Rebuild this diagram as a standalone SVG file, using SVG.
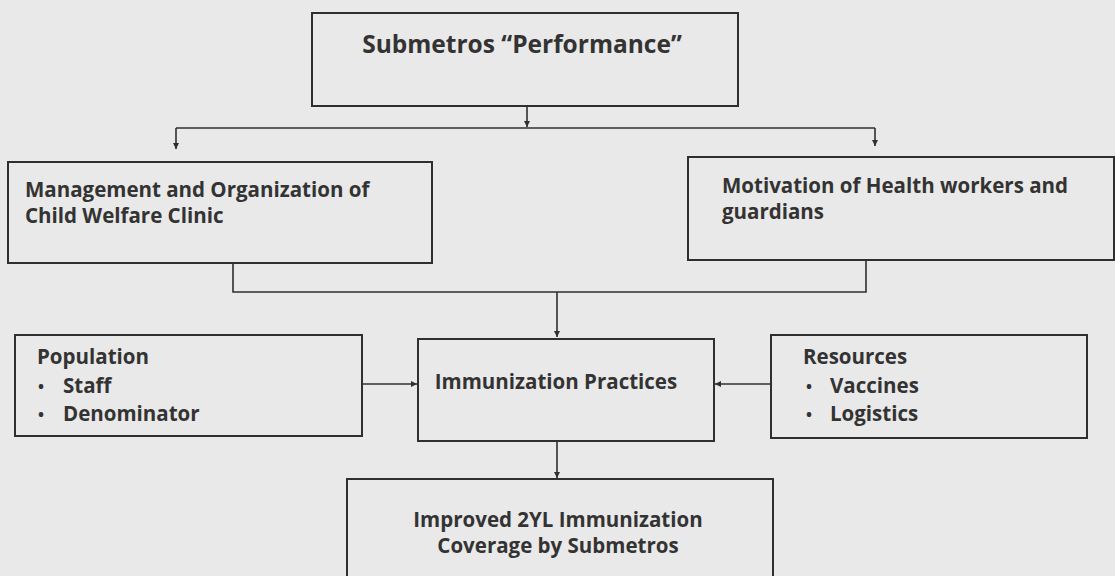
<svg xmlns="http://www.w3.org/2000/svg" width="1115" height="576" viewBox="0 0 1115 576">
<defs>
<style>
.bg{fill:#e9e9e9}
.box{fill:none;stroke:#2f2f2f;stroke-width:2}
.t{font-family:"Open Sans","Noto Sans",sans-serif;font-weight:700;font-size:20.5px;fill:#333}
.tt{font-size:24.5px}
.b{font-size:16px}
.ln{fill:none;stroke:#2f2f2f;stroke-width:1.6}
</style>
<marker id="ah" viewBox="0 0 10 10" refX="10" refY="5" markerWidth="6" markerHeight="6" markerUnits="userSpaceOnUse" orient="auto">
<path d="M0,0 L10,5 L0,10 z" fill="#2f2f2f"/>
</marker>
</defs>
<rect class="bg" x="0" y="0" width="1115" height="576"/>
<g id="connectors">
<line class="ln" x1="527" y1="106" x2="527" y2="127" marker-end="url(#ah)"/>
<line class="ln" x1="176" y1="128" x2="875" y2="128"/>
<line class="ln" x1="176" y1="128" x2="176" y2="149" marker-end="url(#ah)"/>
<line class="ln" x1="875" y1="128" x2="875" y2="146" marker-end="url(#ah)"/>
<polyline class="ln" points="233,263 233,292 866,292 866,260"/>
<line class="ln" x1="557" y1="292" x2="557" y2="337" marker-end="url(#ah)"/>
<line class="ln" x1="362" y1="384" x2="417" y2="384" marker-end="url(#ah)"/>
<line class="ln" x1="770" y1="384" x2="715" y2="384" marker-end="url(#ah)"/>
<line class="ln" x1="557" y1="441" x2="557" y2="478" marker-end="url(#ah)"/>
</g>
<g id="n-top">
<rect class="box" x="312" y="13" width="426" height="93"/>
<text class="t tt" x="522" y="53" text-anchor="middle">Submetros “Performance”</text>
</g>
<g id="n-mgmt">
<rect class="box" x="8" y="162" width="424" height="101"/>
<text class="t" x="25" y="197">Management and Organization of</text>
<text class="t" x="25" y="223">Child Welfare Clinic</text>
</g>
<g id="n-motiv">
<rect class="box" x="688" y="157" width="426" height="103"/>
<text class="t" x="722" y="193">Motivation of Health workers and</text>
<text class="t" x="722" y="219">guardians</text>
</g>
<g id="n-pop">
<rect class="box" x="15" y="335" width="347" height="101"/>
<text class="t" x="37" y="364">Population</text>
<text class="t b" x="38" y="392">•</text>
<text class="t" x="63" y="393">Staff</text>
<text class="t b" x="38" y="420">•</text>
<text class="t" x="63" y="421">Denominator</text>
</g>
<g id="n-imm">
<rect class="box" x="418" y="339" width="296" height="102"/>
<text class="t" x="556" y="389" text-anchor="middle">Immunization Practices</text>
</g>
<g id="n-res">
<rect class="box" x="771" y="335" width="316" height="103"/>
<text class="t" x="803" y="364">Resources</text>
<text class="t b" x="806" y="392">•</text>
<text class="t" x="830" y="393">Vaccines</text>
<text class="t b" x="806" y="420">•</text>
<text class="t" x="830" y="421">Logistics</text>
</g>
<g id="n-cov">
<rect class="box" x="347" y="479" width="426" height="100"/>
<text class="t" x="558" y="527" text-anchor="middle">Improved 2YL Immunization</text>
<text class="t" x="558" y="553" text-anchor="middle">Coverage by Submetros</text>
</g>
</svg>
